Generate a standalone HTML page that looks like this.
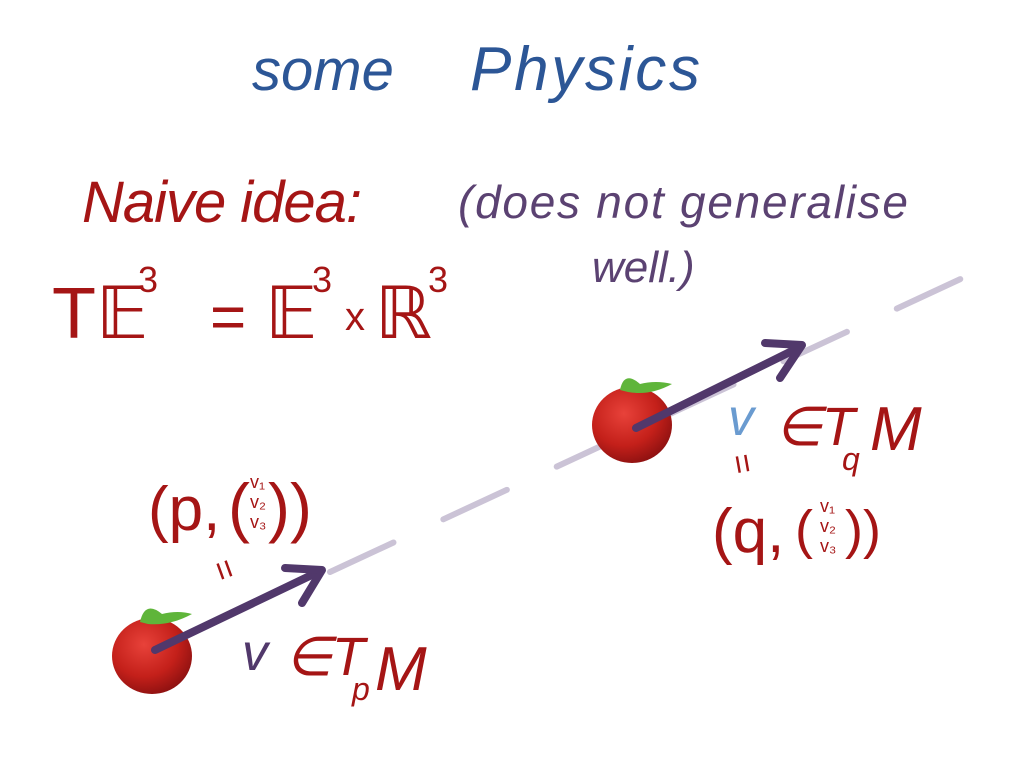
<!DOCTYPE html>
<html><head><meta charset="utf-8"><style>
body{margin:0;background:#fff;}
svg{display:block}
text{font-family:"Liberation Sans",sans-serif;}
</style></head><body>
<svg width="1024" height="768" viewBox="0 0 1024 768" xmlns="http://www.w3.org/2000/svg">
<defs>
<radialGradient id="ap" cx="0.4" cy="0.35" r="0.7">
<stop offset="0" stop-color="#e8423a"/><stop offset="0.6" stop-color="#c4201a"/><stop offset="1" stop-color="#8a1010"/>
</radialGradient>
</defs>
<rect width="1024" height="768" fill="#fff"/>
<text x="252" y="90" font-size="58" fill="#2c5696" font-style="italic">some</text>
<text x="470" y="90" font-size="62" fill="#2c5696" font-style="italic" textLength="230">Physics</text>
<text x="82" y="222" font-size="58" fill="#a51515" font-style="italic" textLength="280">Naive idea:</text>
<text x="458" y="218" font-size="46" fill="#5b4272" font-style="italic" textLength="450">(does not generalise</text>
<text x="592" y="282" font-size="44" fill="#5b4272" font-style="italic">well.)</text>
<text x="52" y="338" font-size="72" fill="#a51515">T𝔼</text>
<text x="138" y="292" font-size="36" fill="#a51515">3</text>
<text x="210" y="338" font-size="62" fill="#a51515">=</text>
<text x="265" y="338" font-size="72" fill="#a51515">𝔼</text>
<text x="312" y="292" font-size="36" fill="#a51515">3</text>
<text x="345" y="330" font-size="40" fill="#a51515">x</text>
<text x="375" y="338" font-size="72" fill="#a51515">ℝ</text>
<text x="428" y="292" font-size="36" fill="#a51515">3</text>
<path d="M330 572 L1010 256" stroke="#cbc3d6" stroke-width="6" stroke-linecap="round" stroke-dasharray="70 55" fill="none"/>
<ellipse cx="152" cy="656" rx="40" ry="38" fill="url(#ap)"/>
<path d="M140 622 Q145 600 162 614 Q178 610 192 614 Q170 626 148 624Z" fill="#5fb53a"/>
<path d="M155 650 L318 572" stroke="#51386b" stroke-width="8" stroke-linecap="round"/>
<path d="M285 568 L322 570 L302 603" stroke="#51386b" stroke-width="8" stroke-linecap="round" stroke-linejoin="round" fill="none"/>
<ellipse cx="632" cy="425" rx="40" ry="38" fill="url(#ap)"/>
<path d="M620 390 Q624 370 640 384 Q656 380 672 384 Q650 396 628 392Z" fill="#5fb53a"/>
<path d="M636 428 L798 348" stroke="#51386b" stroke-width="8" stroke-linecap="round"/>
<path d="M765 343 L802 345 L780 378" stroke="#51386b" stroke-width="8" stroke-linecap="round" stroke-linejoin="round" fill="none"/>
<text x="242" y="670" font-size="52" fill="#51386b" font-style="italic">v</text>
<text x="285" y="675" font-size="54" fill="#a51515" font-style="italic">∈T</text>
<text x="352" y="700" font-size="32" fill="#a51515" font-style="italic">p</text>
<text x="375" y="690" font-size="62" fill="#a51515" font-style="italic">M</text>
<text x="148" y="530" font-size="62" fill="#a51515">(p,</text>
<text x="228" y="530" font-size="66" fill="#a51515">(</text>
<text x="250" y="488" font-size="18" fill="#a51515">v₁</text>
<text x="250" y="508" font-size="18" fill="#a51515">v₂</text>
<text x="250" y="528" font-size="18" fill="#a51515">v₃</text>
<text x="268" y="530" font-size="66" fill="#a51515">))</text>
<text x="210" y="585" font-size="34" fill="#a51515" transform="rotate(70 225 575)">=</text>
<text x="728" y="435" font-size="52" fill="#6a9bd0" font-style="italic">v</text>
<text x="775" y="445" font-size="54" fill="#a51515" font-style="italic">∈T</text>
<text x="842" y="470" font-size="32" fill="#a51515" font-style="italic">q</text>
<text x="870" y="450" font-size="62" fill="#a51515" font-style="italic">M</text>
<text x="728" y="478" font-size="34" fill="#a51515" transform="rotate(80 742 468)">=</text>
<text x="712" y="552" font-size="62" fill="#a51515">(q,</text>
<text x="795" y="548" font-size="54" fill="#a51515">(</text>
<text x="820" y="512" font-size="18" fill="#a51515">v₁</text>
<text x="820" y="532" font-size="18" fill="#a51515">v₂</text>
<text x="820" y="552" font-size="18" fill="#a51515">v₃</text>
<text x="845" y="548" font-size="54" fill="#a51515">))</text>
</svg>
</body></html>
